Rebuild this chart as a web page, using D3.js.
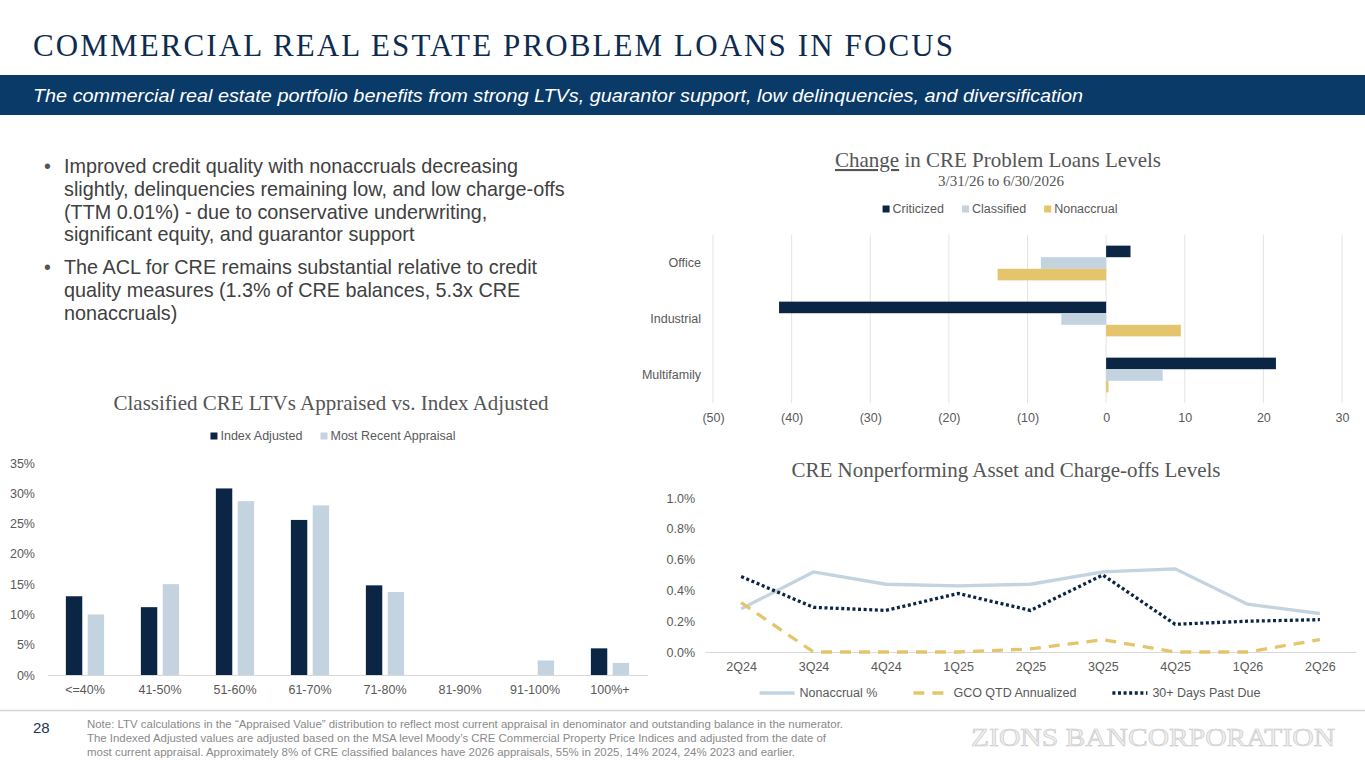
<!DOCTYPE html>
<html>
<head>
<meta charset="utf-8">
<script src="https://cdn.jsdelivr.net/npm/d3@7"></script>
<style>
  body { margin: 0; background: #fff; }
</style>
</head>
<body>
<svg id="slide" width="1365" height="768"></svg>
<script>
const width = 1365, height = 768;

// LTV distribution of classified CRE (percent of balances)
const ltvBuckets = ["<=40%", "41-50%", "51-60%", "61-70%", "71-80%", "81-90%", "91-100%", "100%+"];
const indexAdjusted = [13.0, 11.2, 30.8, 25.6, 14.8, 0, 0, 4.4];
const recentAppraisal = [10.0, 15.0, 28.7, 28.0, 13.7, 0, 2.4, 2.0];

// change in problem loans 3/31/26 -> 6/30/26
const propTypes = ["Office", "Industrial", "Multifamily"];
const criticized = [3.1, -41.6, 21.6];
const classified = [-8.3, -5.7, 7.2];
const nonaccrual = [-13.8, 9.5, 0.3];

// NPA and charge-off levels (%)
const quarters = ["2Q24", "3Q24", "4Q24", "1Q25", "2Q25", "3Q25", "4Q25", "1Q26", "2Q26"];
const nonaccrualPct = [0.28, 0.52, 0.44, 0.43, 0.44, 0.52, 0.54, 0.31, 0.25];
const gcoAnnualized = [0.32, 0, 0, 0, 0.02, 0.08, 0, 0, 0.08];
const pastDue30 = [0.49, 0.29, 0.27, 0.38, 0.27, 0.50, 0.18, 0.20, 0.21];

const bullets = [
  ["Improved credit quality with nonaccruals decreasing",
   "slightly, delinquencies remaining low, and low charge-offs",
   "(TTM 0.01%) - due to conservative underwriting,",
   "significant equity, and guarantor support"],
  ["The ACL for CRE remains substantial relative to credit",
   "quality measures (1.3% of CRE balances, 5.3x CRE",
   "nonaccruals)"]
];

const noteLines = [
  "Note: LTV calculations in the \u201CAppraised Value\u201D distribution to reflect most current appraisal in denominator and outstanding balance in the numerator.",
  "The Indexed Adjusted values are adjusted based on the MSA level Moody\u2019s CRE Commercial Property Price Indices and adjusted from the date of",
  "most current appraisal. Approximately 8% of CRE classified balances have 2026 appraisals, 55% in 2025, 14% 2024, 24% 2023 and earlier."
];

const sans = "'Liberation Sans', Arial, sans-serif";
const serif = "'Liberation Serif', Georgia, serif";
const navy = "#0b2545", light = "#c3d3df", gold = "#e4c56c";
const axisText = "#595959", gridCol = "#e3e3e3", axisCol = "#d9d9d9";

const svg = d3.select("#slide").attr("font-family", sans);

// ---- header
svg.append("text")
  .attr("x", 33).attr("y", 56)
  .attr("font-family", serif).attr("font-size", 31)
  .attr("fill", "#0d2b4e")
  .attr("textLength", 920).attr("lengthAdjust", "spacing")
  .text("COMMERCIAL REAL ESTATE PROBLEM LOANS IN FOCUS");

svg.append("rect").attr("x", 0).attr("y", 75).attr("width", width).attr("height", 40).attr("fill", "#0a3a68");
svg.append("text")
  .attr("x", 33).attr("y", 102)
  .attr("font-size", 19).attr("font-style", "italic").attr("fill", "#fff")
  .attr("textLength", 1050).attr("lengthAdjust", "spacingAndGlyphs")
  .text("The commercial real estate portfolio benefits from strong LTVs, guarantor support, low delinquencies, and diversification");

// ---- bullets
let by = 173;
bullets.forEach((para, i) => {
  if (i > 0) by += 10;
  svg.append("text").attr("x", 44).attr("y", by).attr("font-size", 19.5).attr("fill", "#555").text("\u2022");
  para.forEach(line => {
    svg.append("text").attr("x", 64).attr("y", by).attr("font-size", 19.8).attr("fill", "#404040").text(line);
    by += 22.8;
  });
});

// legend helper: items laid out centred on cx
function legend(items, cx, cy) {
  const g = svg.append("g");
  const parts = items.map(it => {
    const gi = g.append("g");
    let sw;
    if (it.kind === "square") {
      gi.append("rect").attr("x", 0).attr("y", cy - 3.5).attr("width", 7).attr("height", 7).attr("fill", it.color);
      sw = 10;
    } else {
      gi.append("line").attr("x1", 0).attr("x2", 35).attr("y1", cy).attr("y2", cy)
        .attr("stroke", it.color).attr("stroke-width", 3.5)
        .attr("stroke-dasharray", it.dash || null);
      sw = 40;
    }
    const t = gi.append("text").attr("x", sw).attr("y", cy).attr("dy", "0.35em")
      .attr("font-size", 12.5).attr("fill", axisText).text(it.label);
    return { gi, w: sw + t.node().getComputedTextLength() };
  });
  const gap = items[0].kind === "square" ? 18 : 36;
  const total = d3.sum(parts, p => p.w) + gap * (parts.length - 1);
  let x = cx - total / 2;
  parts.forEach(p => { p.gi.attr("transform", `translate(${x},0)`); x += p.w + gap; });
}

// ---- Change in CRE problem loans (horizontal bars)
function problemLoans() {
  const x = d3.scaleLinear().domain([-50, 30]).range([713, 1342]);
  const y = d3.scaleBand().domain(propTypes).range([235, 403]).paddingInner(0.38).paddingOuter(0.19);
  const series = [
    { name: "Criticized", values: criticized, color: navy },
    { name: "Classified", values: classified, color: light },
    { name: "Nonaccrual", values: nonaccrual, color: gold }
  ];
  const y1 = d3.scaleBand().domain(series.map(s => s.name)).range([0, y.bandwidth()]);

  const title = svg.append("text").attr("x", 998).attr("y", 167).attr("text-anchor", "middle")
    .attr("font-family", serif).attr("font-size", 21).attr("fill", "#555");
  title.append("tspan").attr("text-decoration", "underline").text("Change");
  title.append("tspan").text(" in CRE Problem Loans Levels");
  svg.append("text").attr("x", 1001).attr("y", 186).attr("text-anchor", "middle")
    .attr("font-family", serif).attr("font-size", 15).attr("fill", "#555")
    .text("3/31/26 to 6/30/2026");

  legend(series.map(s => ({ label: s.name, kind: "square", color: s.color })), 1000, 209);

  svg.append("g").selectAll("line").data(x.ticks(8)).join("line")
    .attr("x1", d => x(d)).attr("x2", d => x(d))
    .attr("y1", 235).attr("y2", 403)
    .attr("stroke", gridCol).attr("stroke-width", 1);

  series.forEach(s => {
    svg.append("g").selectAll("rect").data(propTypes).join("rect")
      .attr("x", (d, i) => x(Math.min(0, s.values[i])))
      .attr("width", (d, i) => Math.abs(x(s.values[i]) - x(0)))
      .attr("y", d => y(d) + y1(s.name))
      .attr("height", y1.bandwidth())
      .attr("fill", s.color);
  });

  const xAxis = svg.append("g").attr("transform", "translate(0,403)")
    .call(d3.axisBottom(x).ticks(8).tickSize(0).tickPadding(10)
      .tickFormat(d => d < 0 ? `(${-d})` : d));
  xAxis.select(".domain").remove();
  xAxis.selectAll("text").attr("font-family", sans).attr("font-size", 12.5).attr("fill", axisText);

  const yAxis = svg.append("g").attr("transform", "translate(701,0)")
    .call(d3.axisLeft(y).tickSize(0).tickPadding(0));
  yAxis.select(".domain").remove();
  yAxis.selectAll("text").attr("font-family", sans).attr("font-size", 12.5).attr("fill", axisText);
}

// ---- Classified CRE LTVs (grouped columns)
function ltvChart() {
  const x0 = d3.scaleBand().domain(ltvBuckets).range([47.5, 647.5]).paddingInner(0.49).paddingOuter(0.245);
  const series = [
    { name: "Index Adjusted", values: indexAdjusted, color: navy },
    { name: "Most Recent Appraisal", values: recentAppraisal, color: light }
  ];
  const x1 = d3.scaleBand().domain(series.map(s => s.name)).range([0, x0.bandwidth()]).paddingInner(0.25);
  const y = d3.scaleLinear().domain([0, 35]).range([675, 463]);

  svg.append("text").attr("x", 331).attr("y", 410).attr("text-anchor", "middle")
    .attr("font-family", serif).attr("font-size", 21).attr("fill", "#555")
    .text("Classified CRE LTVs Appraised vs. Index Adjusted");

  legend(series.map(s => ({ label: s.name, kind: "square", color: s.color })), 333, 436);

  series.forEach(s => {
    svg.append("g").selectAll("rect").data(ltvBuckets).join("rect")
      .attr("x", d => x0(d) + x1(s.name))
      .attr("width", x1.bandwidth())
      .attr("y", (d, i) => y(s.values[i]))
      .attr("height", (d, i) => y(0) - y(s.values[i]))
      .attr("fill", s.color);
  });

  const yAxis = svg.append("g").attr("transform", "translate(35,0)")
    .call(d3.axisLeft(y).tickValues(d3.range(0, 36, 5)).tickSize(0).tickPadding(0).tickFormat(d => d + "%"));
  yAxis.select(".domain").remove();
  yAxis.selectAll("text").attr("font-family", sans).attr("font-size", 12.5).attr("fill", axisText);

  const xAxis = svg.append("g").attr("transform", "translate(0,675)")
    .call(d3.axisBottom(x0).tickSize(0).tickPadding(10));
  xAxis.select(".domain").attr("stroke", axisCol);
  xAxis.selectAll("text").attr("font-family", sans).attr("font-size", 12.5).attr("fill", axisText);
}

// ---- NPA / charge-offs lines
function npaChart() {
  const x = d3.scalePoint().domain(quarters).range([705, 1356]).padding(0.5);
  const y = d3.scaleLinear().domain([0, 1]).range([652, 498]);

  svg.append("text").attr("x", 1006).attr("y", 477).attr("text-anchor", "middle")
    .attr("font-family", serif).attr("font-size", 21).attr("fill", "#555")
    .text("CRE Nonperforming Asset and Charge-offs Levels");

  const yAxis = svg.append("g").attr("transform", "translate(695,0)")
    .call(d3.axisLeft(y).tickValues(d3.range(0, 1.01, 0.2)).tickSize(0).tickPadding(0).tickFormat(d => d.toFixed(1) + "%"));
  yAxis.select(".domain").remove();
  yAxis.selectAll("text").attr("font-family", sans).attr("font-size", 12.5).attr("fill", axisText);

  const xAxis = svg.append("g").attr("transform", "translate(0,652)")
    .call(d3.axisBottom(x).tickSize(0).tickPadding(10));
  xAxis.select(".domain").attr("stroke", axisCol);
  xAxis.selectAll("text").attr("font-family", sans).attr("font-size", 12.5).attr("fill", axisText);

  const series = [
    { name: "Nonaccrual %", values: nonaccrualPct, color: light, dash: null },
    { name: "GCO QTD Annualized", values: gcoAnnualized, color: gold, dash: "11,8" },
    { name: "30+ Days Past Due", values: pastDue30, color: navy, dash: "3,2.6" }
  ];
  const line = d3.line().x((d, i) => x(quarters[i])).y(d => y(d));
  series.forEach(s => {
    svg.append("path").datum(s.values)
      .attr("d", line)
      .attr("fill", "none")
      .attr("stroke", s.color).attr("stroke-width", 3.3)
      .attr("stroke-dasharray", s.dash);
  });

  legend(series.map(s => ({ label: s.name, kind: "line", color: s.color, dash: s.dash })), 1010, 693);
}

problemLoans();
ltvChart();
npaChart();

// ---- footer
svg.append("line").attr("x1", 0).attr("x2", width).attr("y1", 710.5).attr("y2", 710.5)
  .attr("stroke", "#d4d4d4").attr("stroke-width", 1.5);
svg.append("text").attr("x", 33).attr("y", 733).attr("font-size", 15).attr("fill", "#1c3557").text("28");
const noteWidths = [756, 739, 708];
noteLines.forEach((t, i) => {
  svg.append("text").attr("x", 87).attr("y", 728 + i * 14.2)
    .attr("font-size", 11).attr("fill", "#8a8a8a")
    .attr("textLength", noteWidths[i]).attr("lengthAdjust", "spacingAndGlyphs")
    .text(t);
});
svg.append("text").attr("x", 971).attr("y", 746)
  .attr("font-family", serif).attr("font-size", 26)
  .attr("fill", "#efefef").attr("stroke", "#c6c6c6").attr("stroke-width", 0.6)
  .attr("textLength", 364).attr("lengthAdjust", "spacingAndGlyphs")
  .text("ZIONS BANCORPORATION");
</script>
</body>
</html>
